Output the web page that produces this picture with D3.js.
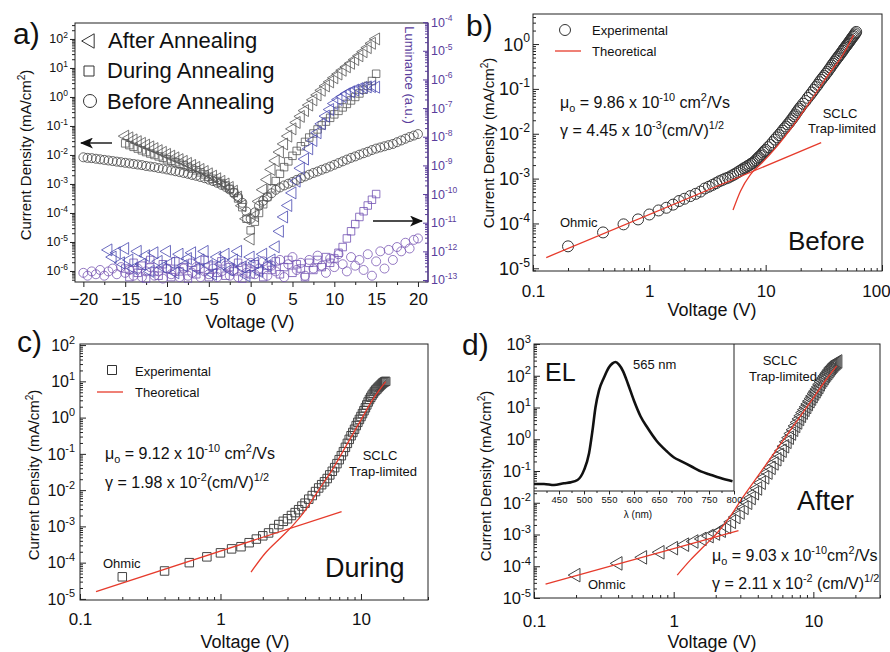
<!DOCTYPE html>
<html>
<head>
<meta charset="utf-8">
<script src="https://cdn.jsdelivr.net/npm/d3@7"></script>
<style>
body { margin: 0; background: #fff; }
svg { font-family: Arial, "Liberation Sans", Helvetica, sans-serif; }
text { fill: #111; white-space: pre; }
</style>
</head>
<body>
<svg width="890" height="652"></svg>
<script>
// ---------------- data ----------------
// panel a: voltage sweeps (V); current density and luminance given as log10 values
var aVoltFull = [-20,-19.5,-19,-18.5,-18,-17.5,-17,-16.5,-16,-15.5,-15,-14.5,-14,-13.5,-13,-12.5,-12,-11.5,-11,-10.5,
  -10,-9.5,-9,-8.5,-8,-7.5,-7,-6.5,-6,-5.5,-5,-4.5,-4,-3.5,-3,-2.5,-2,-1.5,-1,-0.5,0,
  0.5,1,1.5,2,2.5,3,3.5,4,4.5,5,5.5,6,6.5,7,7.5,8,8.5,9,9.5,10,10.5,11,11.5,12,12.5,13,13.5,14,14.5,15,
  15.5,16,16.5,17,17.5,18,18.5,19,19.5,20];
var aVoltHalf = [-15,-14.5,-14,-13.5,-13,-12.5,-12,-11.5,-11,-10.5,-10,-9.5,-9,-8.5,-8,-7.5,-7,-6.5,-6,-5.5,
  -5,-4.5,-4,-3.5,-3,-2.5,-2,-1.5,-1,-0.5,0,0.5,1,1.5,2,2.5,3,3.5,4,4.5,5,5.5,6,6.5,7,7.5,8,8.5,9,9.5,
  10,10.5,11,11.5,12,12.5,13,13.5,14,14.5,15];
var aVoltLumAfter = [-17,-16.5,-16,-15.5,-15,-14.5,-14,-13.5,-13,-12.5,-12,-11.5,-11,-10.5,-10,-9.5,-9,-8.5,-8,-7.5,
  -7,-6.5,-6,-5.5,-5,-4.5,-4,-3.5,-3,-2.5,-2,-1.5,-1,-0.5,0,0.5,1,1.5,2,2.5,3,3.5,4,4.5,5,5.5,6,6.5,7,7.5,
  8,8.5,9,9.5,10,10.5,11,11.5,12,12.5,13,13.5,14,14.5,15];

var aBeforeLogJ = [-2.08,-2.10,-2.11,-2.13,-2.15,-2.17,-2.19,-2.21,-2.23,-2.25,
  -2.27,-2.29,-2.31,-2.33,-2.35,-2.38,-2.40,-2.42,-2.45,-2.47,
  -2.50,-2.53,-2.56,-2.59,-2.62,-2.65,-2.69,-2.72,-2.76,-2.80,
  -2.85,-2.90,-2.96,-3.03,-3.10,-3.19,-3.30,-3.45,-3.65,-3.95,
  -4.20,
  -3.98,-3.75,-3.58,-3.45,-3.32,-3.20,-3.12,-3.05,-2.99,-2.93,
  -2.86,-2.80,-2.74,-2.68,-2.62,-2.57,-2.51,-2.46,-2.40,-2.34,
  -2.28,-2.22,-2.16,-2.10,-2.05,-1.99,-1.94,-1.89,-1.83,-1.78,
  -1.74,-1.70,-1.66,-1.62,-1.56,-1.50,-1.44,-1.38,-1.33,-1.28];
var aDuringLogJ = [-1.60,-1.66,-1.72,-1.78,-1.84,-1.90,-1.95,-2.00,-2.05,-2.10,
  -2.15,-2.20,-2.25,-2.30,-2.35,-2.41,-2.47,-2.53,-2.60,-2.67,
  -2.75,-2.82,-2.90,-2.97,-3.05,-3.17,-3.30,-3.50,-3.80,-4.20,
  -4.60,
  -4.30,-4.00,-3.70,-3.45,-3.15,-2.90,-2.65,-2.42,-2.22,-2.03,
  -1.86,-1.70,-1.55,-1.40,-1.26,-1.12,-0.98,-0.85,-0.72,-0.60,
  -0.48,-0.36,-0.24,-0.12,0.00,0.12,0.25,0.38,0.55,0.80];
var aAfterLogJ = [-1.35,-1.41,-1.48,-1.54,-1.60,-1.66,-1.72,-1.78,-1.85,-1.91,
  -1.98,-2.04,-2.10,-2.16,-2.22,-2.29,-2.36,-2.43,-2.50,-2.57,
  -2.65,-2.73,-2.82,-2.91,-3.00,-3.12,-3.25,-3.45,-3.75,-4.20,
  -4.90,
  -4.10,-3.60,-3.20,-2.85,-2.50,-2.20,-1.90,-1.62,-1.35,-1.10,
  -0.88,-0.67,-0.47,-0.28,-0.10,0.07,0.23,0.38,0.52,0.66,
  0.79,0.92,1.04,1.16,1.29,1.42,1.56,1.70,1.85,2.00];

var aLumAfterLog = [-11.95,-12.20,-12.05,-12.40,-11.90,-12.30,-12.60,-12.00,-12.45,-12.15,
  -12.70,-12.05,-12.35,-12.55,-12.00,-12.40,-12.75,-12.10,-12.50,-12.25,
  -12.05,-12.60,-12.30,-12.00,-12.50,-12.80,-12.20,-12.45,-12.10,-12.65,
  -12.30,-12.00,-12.55,-12.85,
  -12.20,-12.40,-12.70,-12.10,-12.50,-12.30,-11.84,-11.30,-10.80,-10.40,
  -9.96,-9.55,-9.10,-8.78,-8.42,-8.13,-7.86,-7.55,-7.28,-7.05,
  -6.84,-6.70,-6.60,-6.50,-6.43,-6.37,-6.32,-6.28,-6.26,-6.25,-6.27];
var aLumDuringLog = [-12.60,-12.90,-12.40,-12.75,-12.50,-12.95,-12.30,-12.70,-12.85,-12.45,
  -12.60,-12.90,-12.35,-12.70,-12.55,-12.95,-12.40,-12.80,-12.60,-12.30,
  -12.90,-12.50,-12.75,-12.35,-12.85,-12.55,-12.70,-12.40,-12.95,-12.60,
  -12.80,
  -12.45,-12.70,-12.90,-12.50,-12.65,-12.35,-12.80,-12.55,-12.30,-12.75,
  -12.45,-12.60,-12.90,-12.40,-12.65,-12.30,-12.55,-12.20,-12.40,-12.25,
  -12.05,-11.85,-11.55,-11.30,-11.05,-10.80,-10.60,-10.40,-10.20,-10.00];
var aLumBeforeLog = [-12.75,-12.85,-12.70,-12.80,-12.65,-12.85,-12.70,-12.60,-12.80,-12.55,
  -12.75,-12.65,-12.85,-12.60,-12.90,-12.70,-12.55,-12.85,-12.70,-12.95,
  -12.60,-12.80,-12.70,-12.90,-12.60,-12.85,-12.75,-12.55,-12.90,-12.70,
  -12.80,-12.60,-12.90,-12.70,-12.50,-12.85,-12.65,-12.90,-12.55,-12.75,
  -12.40,
  -12.80,-12.60,-12.35,-12.85,-12.50,-12.70,-12.30,-12.90,-12.45,-12.20,
  -12.65,-12.40,-12.85,-12.30,-12.60,-12.15,-12.50,-12.75,-12.25,-12.55,
  -12.10,-12.45,-12.70,-12.20,-12.50,-12.30,-12.65,-12.10,-12.85,-12.35,
  -12.00,-12.60,-11.95,-12.30,-11.85,-12.00,-11.70,-11.90,-11.60,-11.55];

// panel b: before annealing
var bVolt = [0.2,0.4,0.6,0.8,1.0,1.2,1.4,1.6,1.8,2.0,2.25,2.5,2.75,3,3.25,3.5,3.75,4,
  4.25,4.5,4.75,5,5.25,5.5,5.75,6,6.25,6.5,6.75,7,7.25,7.5,7.75,8,8.25,8.5,8.75,9,9.25,9.5,9.75,10,
  10.5,11,11.5,12,12.5,13,13.5,14,14.5,15,15.5,16,16.5,17,17.5,18,18.5,19,19.5,20,
  21,22,23,24,25,26,27,28,29,30,31,32,33,34,35,36,37,38,39,40,
  41,42,43,44,45,46,47,48,49,50,51,52,53,54,55,56,57,58,59,60];
var bLogJ = [-4.51,-4.20,-4.02,-3.91,-3.80,-3.71,-3.65,-3.58,-3.50,-3.45,-3.39,-3.34,-3.29,-3.22,-3.18,-3.14,-3.10,-3.06,
  -3.03,-3.00,-2.98,-2.95,-2.92,-2.89,-2.86,-2.83,-2.80,-2.77,-2.75,-2.72,-2.70,-2.67,-2.65,-2.62,-2.59,-2.55,-2.52,-2.49,-2.46,-2.42,-2.39,-2.36,
  -2.30,-2.25,-2.19,-2.13,-2.08,-2.03,-1.98,-1.93,-1.88,-1.84,-1.79,-1.75,-1.70,-1.66,-1.61,-1.57,-1.52,-1.48,-1.44,-1.40,
  -1.33,-1.27,-1.20,-1.14,-1.08,-1.02,-0.96,-0.91,-0.85,-0.80,-0.75,-0.71,-0.66,-0.62,-0.57,-0.53,-0.48,-0.44,-0.40,-0.36,
  -0.32,-0.29,-0.25,-0.22,-0.18,-0.15,-0.11,-0.08,-0.05,-0.02,0.01,0.04,0.07,0.10,0.13,0.16,0.18,0.21,0.24,0.27];
var bOhmicV = [0.13, 30], bOhmicLogJ = [-4.76, -2.20];
var bSclcV = [5.24, 6.07, 7.39, 9.3, 12.5, 17.4, 24.2, 33.6, 46.8, 56.9];
var bSclcLogJ = [-3.70, -3.28, -2.91, -2.65, -2.28, -1.80, -1.28, -0.73, -0.21, 0.20];

// panel c: during annealing
var cVolt = [0.2,0.4,0.6,0.8,1.0,1.2,1.4,1.6,1.8,2.0,2.2,2.4,2.6,2.8,3.0,3.2,3.4,3.6,3.8,4.0,
  4.25,4.5,4.75,5,5.25,5.5,5.75,6,6.25,6.5,6.75,7,7.25,7.5,7.75,8,8.25,8.5,8.75,9,9.25,9.5,9.75,10,
  10.25,10.5,10.75,11,11.25,11.5,11.75,12,12.25,12.5,12.75,13,13.25,13.5,13.75,14,14.25,14.5,14.75,15];
var cLogJ = [-4.39,-4.23,-4.00,-3.84,-3.73,-3.62,-3.56,-3.45,-3.35,-3.26,-3.18,-3.06,-2.95,-2.86,-2.79,-2.70,-2.62,-2.54,-2.44,-2.36,
  -2.25,-2.15,-2.04,-1.94,-1.85,-1.77,-1.68,-1.58,-1.48,-1.38,-1.27,-1.16,-1.05,-0.94,-0.82,-0.71,-0.60,-0.50,-0.41,-0.32,-0.22,-0.13,-0.05,0.03,
  0.11,0.19,0.27,0.35,0.43,0.50,0.56,0.62,0.67,0.72,0.76,0.79,0.83,0.86,0.89,0.92,0.95,0.97,0.99,1.00];
var cOhmicV = [0.13, 7.28], cOhmicLogJ = [-4.80, -2.59];
var cSclcV = [1.65, 2.08, 2.74, 3.23, 4.03, 5.01, 6.24, 7.78, 9.68, 12.05, 15.0];
var cSclcLogJ = [-4.26, -3.74, -3.28, -3.00, -2.55, -1.99, -1.44, -0.80, -0.16, 0.48, 0.99];

// panel d: after annealing
var dVolt = [0.2,0.4,0.6,0.8,1.0,1.2,1.4,1.6,1.8,2.0,2.2,2.4,2.6,2.8,3.0,3.2,3.4,3.6,3.8,4.0,
  4.25,4.5,4.75,5,5.25,5.5,5.75,6,6.25,6.5,6.75,7,7.25,7.5,7.75,8,8.25,8.5,8.75,9,9.25,9.5,9.75,10,
  10.25,10.5,10.75,11,11.25,11.5,11.75,12,12.25,12.5,12.75,13,13.25,13.5,13.75,14,14.25,14.5,14.75,15];
var dLogJ = [-4.28,-3.91,-3.72,-3.56,-3.43,-3.32,-3.22,-3.14,-3.05,-2.97,-2.88,-2.76,-2.60,-2.45,-2.31,-2.16,-2.00,-1.85,-1.70,-1.55,
  -1.37,-1.20,-1.05,-0.90,-0.76,-0.63,-0.49,-0.36,-0.22,-0.08,0.05,0.18,0.30,0.42,0.53,0.64,0.74,0.84,0.93,1.02,1.11,1.20,1.28,1.36,
  1.44,1.51,1.58,1.65,1.73,1.81,1.87,1.93,1.99,2.04,2.09,2.14,2.19,2.24,2.28,2.32,2.36,2.39,2.42,2.45];
var dOhmicV = [0.121, 2.91], dOhmicLogJ = [-4.56, -2.88];
var dSclcV = [1.06, 1.32, 1.64, 2.04, 2.54, 3.16, 4.16, 5.47, 7.2, 9.46, 12.4, 14.7];
var dSclcLogJ = [-4.28, -3.80, -3.38, -2.96, -2.43, -1.80, -1.06, -0.32, 0.42, 1.15, 1.89, 2.31];

// inset: EL spectrum (nm, normalised intensity)
var elWave = [400,420,440,460,473,487,500,510,517,523,530,540,550,557,563,570,578,588,600,613,
  627,645,665,680,695,715,735,750,773,797];
var elInt = [0.054,0.054,0.046,0.060,0.067,0.085,0.162,0.29,0.47,0.65,0.78,0.88,0.96,0.99,1.0,0.98,0.93,0.83,0.70,0.58,
  0.49,0.39,0.31,0.26,0.23,0.19,0.15,0.13,0.10,0.075];

// ---------------- helpers ----------------
var svg = d3.select("svg");
var FONT = "Arial, 'Liberation Sans', Helvetica, sans-serif";
var red = "#e63b2c", purple = "#5a3d9c";
function p10(e) { return Math.pow(10, e); }

function logMinors(d) {
  var out = [];
  for (var e = Math.floor(Math.log10(d[0])); e <= Math.ceil(Math.log10(d[1])); e++)
    for (var m = 2; m <= 9; m++) {
      var v = m * p10(e);
      if (v >= d[0] && v <= d[1]) out.push(v);
    }
  return out;
}

function drawAxis(g, axisFn, scale, pos, vals, size, fmt, pad, fs, color) {
  var a = axisFn(scale).tickValues(vals).tickSize(size).tickPadding(pad || 3)
    .tickFormat(fmt || function () { return ""; });
  var sel = g.append("g").attr("transform", pos).call(a);
  sel.select(".domain").remove();
  sel.attr("font-family", FONT).attr("font-size", fs || 10);
  sel.selectAll("line").attr("stroke", color || "#222");
  sel.selectAll("text").style("fill", color || "#111");
  return sel;
}

function powLabels(g, y, xPos, anchor, exps, fs, color) {
  exps.forEach(function (e) {
    var t = g.append("text").attr("x", xPos).attr("y", y(p10(e)) + fs * 0.36)
      .attr("text-anchor", anchor).attr("font-size", fs).style("fill", color);
    t.append("tspan").text("10");
    t.append("tspan").attr("dy", -fs * 0.45).attr("font-size", fs * 0.68).text(e);
  });
}

function richText(g, x, y, parts, size, anchor) {
  var t = g.append("text").attr("x", x).attr("y", y).attr("font-size", size);
  if (anchor) t.attr("text-anchor", anchor);
  var shift = 0;
  parts.forEach(function (p) {
    var kind = p[1] || "n";
    var target = kind === "sup" ? -0.42 * size : kind === "sub" ? 0.28 * size : 0;
    t.append("tspan").attr("dy", target - shift)
      .attr("font-size", kind === "n" ? size : size * 0.68).text(p[0]);
    shift = target;
  });
  return t;
}

function frame(g, l, r, t, b) {
  g.append("rect").attr("x", l).attr("y", t).attr("width", r - l).attr("height", b - t)
    .attr("fill", "none").attr("stroke", "#222").attr("stroke-width", 1);
}

function yTitle(g, x, y, fs) {
  richText(g, 0, 0, [["Current Density (mA/cm"], ["2", "sup"], [")"]], fs, "middle")
    .attr("transform", "translate(" + x + "," + y + ") rotate(-90)");
}

var lineGen = function (x, y) {
  return d3.line().x(function (d) { return x(d[0]); }).y(function (d) { return y(p10(d[1])); });
};

function leftTri(size) { return d3.symbol(d3.symbolTriangle, size)(); }

// generic log-log panel for b, c, d
function logPanel(o) {
  var g = svg.append("g");
  var x = d3.scaleLog().domain(o.xd).range([o.l, o.r]);
  var y = d3.scaleLog().domain(o.yd).range([o.b, o.t]);
  drawAxis(g, d3.axisBottom, x, "translate(0," + o.b + ")", logMinors(o.xd), -3);
  var xa = drawAxis(g, d3.axisBottom, x, "translate(0," + o.b + ")", o.xTicks, -6, d3.format("~g"), o.xPad, o.xFs);
  if (o.lastDx) xa.selectAll(".tick text").filter(function (d) { return d === o.xTicks[o.xTicks.length - 1]; }).attr("dx", o.lastDx);
  drawAxis(g, d3.axisLeft, y, "translate(" + o.l + ",0)", logMinors(o.yd), -3);
  drawAxis(g, d3.axisLeft, y, "translate(" + o.l + ",0)", o.yExps.map(p10), -6);
  powLabels(g, y, o.l - o.yPad, "end", o.yExps, o.yFs, "#111");
  frame(g, o.l, o.r, o.t, o.b);
  yTitle(g, o.ytx, o.yty, 15);
  g.append("text").attr("x", o.xtx).attr("y", o.xty).attr("text-anchor", "middle")
    .attr("font-size", 18).text("Voltage (V)");
  return { g: g, x: x, y: y };
}

// ---------------- panel a ----------------
var ga = svg.append("g");
var aL = 75, aR = 428, aT = 23, aB = 282;
var ax = d3.scaleLinear().domain([-21, 21.2]).range([aL, aR]);
var ayJ = d3.scaleLog().domain([p10(-6.38), p10(2.55)]).range([aB, aT]);
var ayLum = d3.scaleLog().domain([p10(-13.07), p10(-4.03)]).range([aB, aT]);

drawAxis(ga, d3.axisBottom, ax, "translate(0," + aB + ")", [-17.5, -12.5, -7.5, -2.5, 2.5, 7.5, 12.5, 17.5], 3);
drawAxis(ga, d3.axisBottom, ax, "translate(0," + aB + ")", [-20, -15, -10, -5, 0, 5, 10, 15, 20], 5, d3.format("d"), 6, 17);
drawAxis(ga, d3.axisLeft, ayJ, "translate(" + aL + ",0)", logMinors(ayJ.domain()), 3);
drawAxis(ga, d3.axisLeft, ayJ, "translate(" + aL + ",0)", d3.range(-6, 3).map(p10), 5);
powLabels(ga, ayJ, aL - 7, "end", d3.range(-6, 3), 12.5, "#111");
frame(ga, aL, aR, aT, aB);
ga.append("line").attr("x1", aR).attr("x2", aR).attr("y1", aT).attr("y2", aB)
  .attr("stroke", purple).attr("stroke-width", 1.3);
drawAxis(ga, d3.axisRight, ayLum, "translate(" + aR + ",0)", logMinors(ayLum.domain()), -3, null, 3, 10, purple);
drawAxis(ga, d3.axisRight, ayLum, "translate(" + aR + ",0)", d3.range(-13, -3).map(p10), -5, null, 3, 10, purple);
powLabels(ga, ayLum, aR + 3, "start", d3.range(-13, -3), 12.5, purple);

yTitle(ga, 31, 155, 15);
ga.append("text").attr("x", 250).attr("y", 328).attr("text-anchor", "middle").attr("font-size", 18).text("Voltage (V)");
ga.append("text").attr("font-size", 13).attr("text-anchor", "middle")
  .attr("transform", "translate(405,75) rotate(90)").style("fill", purple).text("Luminance (a.u.)");

// current density (grey, hollow) markers
var gCur = ga.append("g").attr("fill", "none").attr("stroke-width", 0.8);
gCur.selectAll(".bef").data(d3.zip(aVoltFull, aBeforeLogJ)).join("circle").attr("class", "bef")
  .attr("cx", function (d) { return ax(d[0]); }).attr("cy", function (d) { return ayJ(p10(d[1])); })
  .attr("r", 4.5).attr("stroke", "#444");
gCur.selectAll(".dur").data(d3.zip(aVoltHalf, aDuringLogJ)).join("path").attr("class", "dur")
  .attr("d", d3.symbol(d3.symbolSquare, 56)())
  .attr("transform", function (d) { return "translate(" + ax(d[0]) + "," + ayJ(p10(d[1])) + ")"; })
  .attr("stroke", "#555");
gCur.selectAll(".aft").data(d3.zip(aVoltHalf, aAfterLogJ)).join("path").attr("class", "aft")
  .attr("d", leftTri(62))
  .attr("transform", function (d) { return "translate(" + ax(d[0]) + "," + ayJ(p10(d[1])) + ") rotate(-90)"; })
  .attr("stroke", "#555");

// luminance (purple / blue) markers
var gLum = ga.append("g").attr("fill", "none").attr("stroke-width", 0.8);
gLum.selectAll(".lb").data(d3.zip(aVoltFull, aLumBeforeLog)).join("circle").attr("class", "lb")
  .attr("cx", function (d) { return ax(d[0]); }).attr("cy", function (d) { return ayLum(p10(d[1])); })
  .attr("r", 4.5).attr("stroke", "#7a58b4");
gLum.selectAll(".ld").data(d3.zip(aVoltHalf, aLumDuringLog)).join("path").attr("class", "ld")
  .attr("d", d3.symbol(d3.symbolSquare, 56)())
  .attr("transform", function (d) { return "translate(" + ax(d[0]) + "," + ayLum(p10(d[1])) + ")"; })
  .attr("stroke", "#7152b2");
gLum.selectAll(".la").data(d3.zip(aVoltLumAfter, aLumAfterLog)).join("path").attr("class", "la")
  .attr("d", leftTri(62))
  .attr("transform", function (d) { return "translate(" + ax(d[0]) + "," + ayLum(p10(d[1])) + ") rotate(-90)"; })
  .attr("stroke", "#4848b0");

// legend
var legA = ga.append("g").attr("fill", "#fff").attr("stroke", "#333").attr("stroke-width", 1);
legA.append("path").attr("d", leftTri(90)).attr("transform", "translate(90,41) rotate(-90)");
legA.append("path").attr("d", d3.symbol(d3.symbolSquare, 100)()).attr("transform", "translate(89,71)");
legA.append("circle").attr("cx", 90).attr("cy", 101).attr("r", 6.5);
ga.append("text").attr("x", 108).attr("y", 48).attr("font-size", 22).text("After Annealing");
ga.append("text").attr("x", 107).attr("y", 78).attr("font-size", 22).text("During Annealing");
ga.append("text").attr("x", 107).attr("y", 109).attr("font-size", 22).text("Before Annealing");

// arrows
var defs = svg.append("defs");
defs.append("marker").attr("id", "arr").attr("viewBox", "0 0 12 10").attr("refX", 11).attr("refY", 5)
  .attr("markerWidth", 13).attr("markerHeight", 11).attr("markerUnits", "userSpaceOnUse").attr("orient", "auto")
  .append("path").attr("d", "M0,0L12,5L0,10L3,5Z").attr("fill", "#111");
ga.append("line").attr("x1", 112).attr("x2", 81).attr("y1", 143).attr("y2", 143)
  .attr("stroke", "#111").attr("stroke-width", 1.4).attr("marker-end", "url(#arr)");
ga.append("line").attr("x1", 373).attr("x2", 422).attr("y1", 221).attr("y2", 221)
  .attr("stroke", "#111").attr("stroke-width", 1.4).attr("marker-end", "url(#arr)");

svg.append("text").attr("x", 13).attr("y", 44).attr("font-size", 30).text("a)");

// ---------------- panel b ----------------
var pb = logPanel({ l: 533, r: 882, t: 14, b: 271, xd: [0.1, 100], yd: [p10(-5.06), p10(0.67)],
  xTicks: [0.1, 1, 10, 100], yExps: [-5, -4, -3, -2, -1, 0], xPad: 14, xFs: 17, yPad: 3, yFs: 18, lastDx: -6,
  ytx: 494, yty: 143, xtx: 712, xty: 316 });
pb.g.append("g").attr("fill", "none").attr("stroke", "#333").attr("stroke-width", 1)
  .selectAll("circle").data(d3.zip(bVolt, bLogJ)).join("circle")
  .attr("cx", function (d) { return pb.x(d[0]); }).attr("cy", function (d) { return pb.y(p10(d[1])); }).attr("r", 5.5);
pb.g.append("path").datum(d3.zip(bOhmicV, bOhmicLogJ)).attr("d", lineGen(pb.x, pb.y))
  .attr("fill", "none").attr("stroke", red).attr("stroke-width", 1.3);
pb.g.append("path").datum(d3.zip(bSclcV, bSclcLogJ)).attr("d", lineGen(pb.x, pb.y).curve(d3.curveMonotoneX))
  .attr("fill", "none").attr("stroke", red).attr("stroke-width", 1.3);
pb.g.append("circle").attr("cx", 565).attr("cy", 30).attr("r", 5.5).attr("fill", "#fff").attr("stroke", "#333");
pb.g.append("text").attr("x", 592).attr("y", 35).attr("font-size", 13).text("Experimental");
pb.g.append("line").attr("x1", 555).attr("x2", 581).attr("y1", 51).attr("y2", 51).attr("stroke", red).attr("stroke-width", 1.3);
pb.g.append("text").attr("x", 592).attr("y", 56).attr("font-size", 13).text("Theoretical");
richText(pb.g, 560, 108, [["μ"], ["o", "sub"], [" = 9.86 x 10"], ["-10", "sup"], [" cm"], ["2", "sup"], ["/Vs"]], 16);
richText(pb.g, 560, 136, [["γ = 4.45 x 10"], ["-3", "sup"], ["(cm/V)"], ["1/2", "sup"]], 16);
pb.g.append("text").attr("x", 840).attr("y", 118).attr("text-anchor", "middle").attr("font-size", 13).text("SCLC");
pb.g.append("text").attr("x", 842).attr("y", 133).attr("text-anchor", "middle").attr("font-size", 13).text("Trap-limited");
pb.g.append("text").attr("x", 560).attr("y", 227).attr("font-size", 13).text("Ohmic");
pb.g.append("text").attr("x", 788).attr("y", 250).attr("font-size", 26).text("Before");
svg.append("text").attr("x", 466).attr("y", 36).attr("font-size", 30).text("b)");

// ---------------- panel c ----------------
var pc = logPanel({ l: 80, r: 428, t: 344, b: 600, xd: [0.1, 30], yd: [p10(-5.03), p10(2.03)],
  xTicks: [0.1, 1, 10], yExps: [-5, -4, -3, -2, -1, 0, 1, 2], xPad: 13, xFs: 17, yPad: 5, yFs: 16,
  ytx: 39, yty: 475, xtx: 245, xty: 648 });
pc.g.append("g").attr("fill", "none").attr("stroke", "#444").attr("stroke-width", 1)
  .selectAll("path").data(d3.zip(cVolt, cLogJ)).join("path")
  .attr("d", d3.symbol(d3.symbolSquare, 72)())
  .attr("transform", function (d) { return "translate(" + pc.x(d[0]) + "," + pc.y(p10(d[1])) + ")"; });
pc.g.append("path").datum(d3.zip(cOhmicV, cOhmicLogJ)).attr("d", lineGen(pc.x, pc.y))
  .attr("fill", "none").attr("stroke", red).attr("stroke-width", 1.3);
pc.g.append("path").datum(d3.zip(cSclcV, cSclcLogJ)).attr("d", lineGen(pc.x, pc.y).curve(d3.curveMonotoneX))
  .attr("fill", "none").attr("stroke", red).attr("stroke-width", 1.3);
pc.g.append("path").attr("d", d3.symbol(d3.symbolSquare, 81)()).attr("transform", "translate(112,370)")
  .attr("fill", "#fff").attr("stroke", "#333");
pc.g.append("text").attr("x", 135).attr("y", 376).attr("font-size", 13).text("Experimental");
pc.g.append("line").attr("x1", 97).attr("x2", 123).attr("y1", 392).attr("y2", 392).attr("stroke", red).attr("stroke-width", 1.3);
pc.g.append("text").attr("x", 135).attr("y", 397).attr("font-size", 13).text("Theoretical");
richText(pc.g, 105, 459, [["μ"], ["o", "sub"], [" = 9.12 x 10"], ["-10", "sup"], [" cm"], ["2", "sup"], ["/Vs"]], 16);
richText(pc.g, 105, 488, [["γ = 1.98 x 10"], ["-2", "sup"], ["(cm/V)"], ["1/2", "sup"]], 16);
pc.g.append("text").attr("x", 380).attr("y", 460).attr("text-anchor", "middle").attr("font-size", 13).text("SCLC");
pc.g.append("text").attr("x", 383).attr("y", 476).attr("text-anchor", "middle").attr("font-size", 13).text("Trap-limited");
pc.g.append("text").attr("x", 103).attr("y", 568).attr("font-size", 13).text("Ohmic");
pc.g.append("text").attr("x", 325).attr("y", 577).attr("font-size", 27).text("During");
svg.append("text").attr("x", 17).attr("y", 352).attr("font-size", 30).text("c)");

// ---------------- panel d ----------------
var pd = logPanel({ l: 534, r: 880, t: 344, b: 598, xd: [0.1, 30], yd: [p10(-5), p10(3)],
  xTicks: [0.1, 1, 10], yExps: [-5, -4, -3, -2, -1, 0, 1, 2, 3], xPad: 17, xFs: 17, yPad: 3, yFs: 16.5,
  ytx: 491, yty: 476, xtx: 712, xty: 648 });
pd.g.append("g").attr("fill", "none").attr("stroke", "#444").attr("stroke-width", 1)
  .selectAll("path").data(d3.zip(dVolt, dLogJ)).join("path")
  .attr("d", leftTri(80))
  .attr("transform", function (d) { return "translate(" + pd.x(d[0]) + "," + pd.y(p10(d[1])) + ") rotate(-90)"; });
pd.g.append("path").datum(d3.zip(dOhmicV, dOhmicLogJ)).attr("d", lineGen(pd.x, pd.y))
  .attr("fill", "none").attr("stroke", red).attr("stroke-width", 1.3);
pd.g.append("path").datum(d3.zip(dSclcV, dSclcLogJ)).attr("d", lineGen(pd.x, pd.y).curve(d3.curveMonotoneX))
  .attr("fill", "none").attr("stroke", red).attr("stroke-width", 1.3);
richText(pd.g, 712, 561, [["μ"], ["o", "sub"], [" = 9.03 x 10"], ["-10", "sup"], ["cm"], ["2", "sup"], ["/Vs"]], 16);
richText(pd.g, 712, 589, [["γ = 2.11 x 10"], ["-2", "sup"], [" (cm/V)"], ["1/2", "sup"]], 16);
pd.g.append("text").attr("x", 780).attr("y", 365).attr("text-anchor", "middle").attr("font-size", 13).text("SCLC");
pd.g.append("text").attr("x", 783).attr("y", 381).attr("text-anchor", "middle").attr("font-size", 13).text("Trap-limited");
pd.g.append("text").attr("x", 588).attr("y", 589).attr("font-size", 13).text("Ohmic");
pd.g.append("text").attr("x", 797).attr("y", 510).attr("font-size", 27).text("After");
svg.append("text").attr("x", 462).attr("y", 355).attr("font-size", 30).text("d)");

// inset EL spectrum
var iL = 534, iR = 734, iT = 344, iB = 491;
var ix = d3.scaleLinear().domain([400, 800]).range([iL, iR]);
var iy = d3.scaleLinear().domain([0, 1.14]).range([iB, iT]);
var gi = pd.g.append("g");
gi.append("line").attr("x1", iR).attr("x2", iR).attr("y1", iT).attr("y2", iB).attr("stroke", "#222");
gi.append("line").attr("x1", iL).attr("x2", iR).attr("y1", iB).attr("y2", iB).attr("stroke", "#222");
drawAxis(gi, d3.axisBottom, ix, "translate(0," + iB + ")", d3.range(425, 800, 50), 2);
drawAxis(gi, d3.axisBottom, ix, "translate(0," + iB + ")", d3.range(450, 801, 50), 3.5, d3.format("d"), 2, 9.5);
gi.append("path").datum(d3.zip(elWave, elInt))
  .attr("d", d3.line().x(function (d) { return ix(d[0]); }).y(function (d) { return iy(d[1]); }).curve(d3.curveMonotoneX))
  .attr("fill", "none").attr("stroke", "#111").attr("stroke-width", 2.6);
gi.append("text").attr("x", 638).attr("y", 518).attr("text-anchor", "middle").attr("font-size", 10).text("λ (nm)");
gi.append("text").attr("x", 633).attr("y", 369).attr("font-size", 13).text("565 nm");
gi.append("text").attr("x", 545).attr("y", 381).attr("font-size", 25).text("EL");
</script>
</body>
</html>
